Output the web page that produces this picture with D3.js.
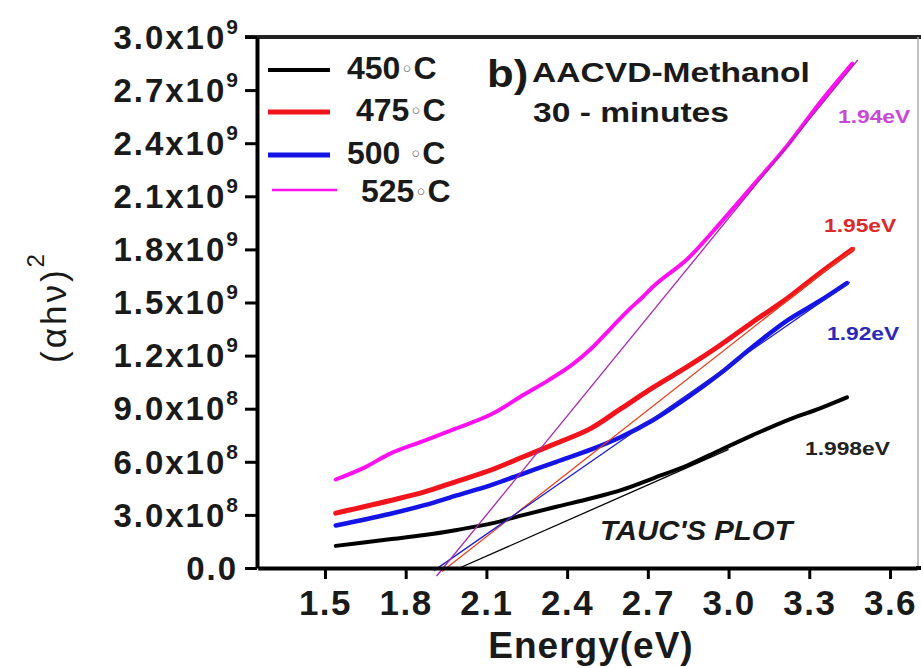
<!DOCTYPE html>
<html><head><meta charset="utf-8">
<script src="https://cdn.jsdelivr.net/npm/d3@7"></script>
<style>
body{margin:0;background:#fff}
svg{display:block}
text{font-family:"Liberation Sans",Arial,Helvetica,sans-serif}
</style>
</head><body>
<svg id="chart" width="921" height="668"></svg>
<script>
// ---------------- data ----------------
const seriesNames = ["450", "475", "500 ", "525"];

const energy450 = [1.54, 1.74, 1.87, 1.99, 2.12, 2.24, 2.36, 2.49, 2.60, 2.72, 2.85, 2.97, 3.09, 3.22, 3.34, 3.44];
const value450  = [0.125e9, 0.162e9, 0.186e9, 0.215e9, 0.252e9, 0.30e9, 0.346e9, 0.394e9, 0.44e9, 0.507e9, 0.582e9, 0.667e9, 0.751e9, 0.836e9, 0.902e9, 0.964e9];

const energy475 = [1.54, 1.74, 1.87, 1.99, 2.12, 2.24, 2.36, 2.49, 2.60, 2.72, 2.85, 2.97, 3.09, 3.22, 3.34, 3.46];
const value475  = [0.31e9, 0.38e9, 0.43e9, 0.49e9, 0.555e9, 0.63e9, 0.705e9, 0.79e9, 0.90e9, 1.02e9, 1.14e9, 1.26e9, 1.39e9, 1.525e9, 1.667e9, 1.80e9];

const energy500 = [1.54, 1.74, 1.87, 1.99, 2.12, 2.24, 2.36, 2.49, 2.60, 2.72, 2.85, 2.97, 3.09, 3.22, 3.34, 3.44];
const value500  = [0.24e9, 0.305e9, 0.355e9, 0.41e9, 0.47e9, 0.535e9, 0.60e9, 0.67e9, 0.74e9, 0.836e9, 0.966e9, 1.10e9, 1.25e9, 1.40e9, 1.51e9, 1.61e9];

const energy525 = [1.54, 1.65, 1.74, 1.87, 1.99, 2.12, 2.24, 2.33, 2.42, 2.49, 2.56, 2.63, 2.68, 2.72, 2.85, 2.97, 3.09, 3.22, 3.34, 3.46];
const value525  = [0.50e9, 0.57e9, 0.645e9, 0.72e9, 0.79e9, 0.87e9, 0.98e9, 1.06e9, 1.15e9, 1.24e9, 1.35e9, 1.46e9, 1.53e9, 1.59e9, 1.75e9, 1.95e9, 2.16e9, 2.39e9, 2.63e9, 2.85e9];

// Tauc fit lines: two end points each [energy, value]
const fit450 = [[1.985, -0.01e9], [3.00, 0.67e9]];
const fit475 = [[1.935, -0.02e9], [3.47, 1.81e9]];
const fit500 = [[1.905, -0.015e9], [3.45, 1.615e9]];
const fit525 = [[1.915, -0.045e9], [3.48, 2.87e9]];

const gapLabels = ["1.998eV", "1.95eV", "1.92eV", "1.94eV"];

const xTickValues = [1.5, 1.8, 2.1, 2.4, 2.7, 3.0, 3.3, 3.6];
const xTickLabels = ["1.5", "1.8", "2.1", "2.4", "2.7", "3.0", "3.3", "3.6"];
const yTickValues = [0, 0.3e9, 0.6e9, 0.9e9, 1.2e9, 1.5e9, 1.8e9, 2.1e9, 2.4e9, 2.7e9, 3.0e9];
const yTickLabels = ["0.0", "3.0x10", "6.0x10", "9.0x10", "1.2x10", "1.5x10", "1.8x10", "2.1x10", "2.4x10", "2.7x10", "3.0x10"];
const yTickExps   = ["", "8", "8", "8", "9", "9", "9", "9", "9", "9", "9"];

// ---------------- styles ----------------
const curveColors = ["#000000", "#f2141c", "#1414e6", "#ff10f0"];
const curveWidths = [4, 5, 4.5, 4];
const fitColors   = ["#000000", "#e8401c", "#2020d0", "#a828b0"];
const labelColors = ["#222222", "#dc2a2a", "#2a2ab4", "#c848d8"];
const legendWidths = [4, 5, 5, 2.5];

// ---------------- drawing ----------------
const svg = d3.select("#chart");
const x = d3.scaleLinear().domain([1.25, 3.7]).range([257.7, 916.9]);
const y = d3.scaleLinear().domain([0, 3.0e9]).range([568, 37]);

const series = [
  {e: energy450, v: value450, fit: fit450},
  {e: energy475, v: value475, fit: fit475},
  {e: energy500, v: value500, fit: fit500},
  {e: energy525, v: value525, fit: fit525}
];

// frame: top and right
svg.append("line").attr("x1", 245).attr("x2", 921).attr("y1", 37).attr("y2", 37)
  .attr("stroke", "#222").attr("stroke-width", 4);
svg.append("line").attr("x1", 918).attr("x2", 918).attr("y1", 37).attr("y2", 568)
  .attr("stroke", "#aaa").attr("stroke-width", 1.5);

// curves
const line = d3.line().x(d => x(d[0])).y(d => y(d[1])).curve(d3.curveMonotoneX);
series.forEach((s, i) => {
  const pts = s.e.map((e, k) => [e, s.v[k]]);
  svg.append("path").attr("d", line(pts)).attr("fill", "none")
    .attr("stroke", curveColors[i]).attr("stroke-width", curveWidths[i])
    .attr("stroke-linejoin", "round").attr("stroke-linecap", "round");
});
// fit lines
const fitLine = d3.line().x(d => x(d[0])).y(d => y(d[1]));
series.forEach((s, i) => {
  svg.append("path").attr("d", fitLine(s.fit)).attr("fill", "none")
    .attr("stroke", fitColors[i]).attr("stroke-width", 1.3);
});

// axes
const yAxis = svg.append("g").attr("transform", "translate(257,0)")
  .call(d3.axisLeft(y).tickValues(yTickValues).tickSize(12).tickSizeOuter(0)
    .tickFormat((d, i) => yTickLabels[i]));
yAxis.select(".domain").attr("stroke", "#000").attr("stroke-width", 4);
yAxis.selectAll(".tick line").attr("stroke", "#000").attr("stroke-width", 3);
yAxis.selectAll(".tick text").each(function(d, i) {
  const t = d3.select(this);
  t.text(null).attr("x", -19).attr("dy", "0.34em")
    .attr("font-size", 33).attr("font-weight", "bold").attr("fill", "#1a1a1a")
    .attr("letter-spacing", 2).attr("font-family", "'Liberation Sans', Arial, sans-serif");
  t.append("tspan").text(yTickLabels[i]);
  if (yTickExps[i]) t.append("tspan").attr("dy", -15).attr("font-size", 21).attr("letter-spacing", 0).text(yTickExps[i]);
});

const xAxis = svg.append("g").attr("transform", "translate(0,568)")
  .call(d3.axisBottom(x).tickValues(xTickValues).tickSize(11).tickSizeOuter(0)
    .tickFormat((d, i) => xTickLabels[i]));
xAxis.select(".domain").attr("stroke", "#000").attr("stroke-width", 4);
xAxis.selectAll(".tick line").attr("stroke", "#000").attr("stroke-width", 3);
xAxis.selectAll(".tick text").attr("y", 22).attr("dy", "0.71em")
  .attr("font-size", 35).attr("font-weight", "bold").attr("fill", "#1a1a1a")
  .attr("letter-spacing", 1.5).attr("font-family", "'Liberation Sans', Arial, sans-serif");
svg.append("line").attr("x1", 916).attr("x2", 921).attr("y1", 568).attr("y2", 568)
  .attr("stroke", "#000").attr("stroke-width", 4);

// axis titles
svg.append("text").attr("x", 591).attr("y", 658).attr("text-anchor", "middle")
  .attr("font-size", 37).attr("font-weight", "bold").attr("letter-spacing", 1)
  .attr("fill", "#1a1a1a").text("Energy(eV)");
const yt = svg.append("text").attr("transform", "translate(66,307) rotate(-90)")
  .attr("text-anchor", "middle").attr("font-size", 35).attr("letter-spacing", 3)
  .attr("fill", "#1a1a1a");
yt.append("tspan").text("(αhν)");
yt.append("tspan").attr("dy", -22).attr("font-size", 24).text("2");

// legend
const legendLineY = [70, 112, 155, 190];
const legendTextX = [347, 356, 347, 361];
const legendLineX = [[268, 330], [268, 330], [268, 330], [272, 337]];
seriesNames.forEach((n, i) => {
  svg.append("line").attr("x1", legendLineX[i][0]).attr("x2", legendLineX[i][1])
    .attr("y1", legendLineY[i]).attr("y2", legendLineY[i])
    .attr("stroke", curveColors[i]).attr("stroke-width", legendWidths[i]);
  const t = svg.append("text").attr("x", legendTextX[i]).attr("y", legendLineY[i] + 9 + (i === 3 ? 3 : 0))
    .attr("font-size", 32).attr("font-weight", "bold").attr("fill", "#1a1a1a");
  t.append("tspan").text(n);
  t.append("tspan").attr("dy", -2).attr("font-size", 22).attr("font-weight", "normal")
    .attr("font-family", "'DejaVu Sans', sans-serif").attr("fill", "#666").text("◦");
  t.append("tspan").attr("dy", 2).text("C");
});

// panel annotation
svg.append("text").attr("transform", "translate(487,87) scale(1.12,1)")
  .attr("font-size", 39).attr("font-weight", "bold").attr("fill", "#1a1a1a").text("b)");
svg.append("text").attr("transform", "translate(532,82) scale(1.2,1)")
  .attr("font-size", 28).attr("font-weight", "bold").attr("fill", "#1a1a1a").text("AACVD-Methanol");
svg.append("text").attr("transform", "translate(533,122) scale(1.2,1)")
  .attr("font-size", 28).attr("font-weight", "bold").attr("fill", "#1a1a1a").text("30 - minutes");

// gap labels
const gapLabelPos = [[805, 455], [824, 232], [827, 340], [838, 123]];
gapLabels.forEach((g, i) => {
  svg.append("text").attr("transform", `translate(${gapLabelPos[i][0]},${gapLabelPos[i][1]}) scale(1.2,1)`)
    .attr("font-size", 19).attr("font-weight", "bold").attr("fill", labelColors[i]).text(g);
});

svg.append("text").attr("transform", "translate(600,540) scale(1.05,1)")
  .attr("font-size", 28).attr("font-weight", "bold").attr("font-style", "italic")
  .attr("fill", "#1a1a1a").text("TAUC'S PLOT");
</script>
</body></html>
